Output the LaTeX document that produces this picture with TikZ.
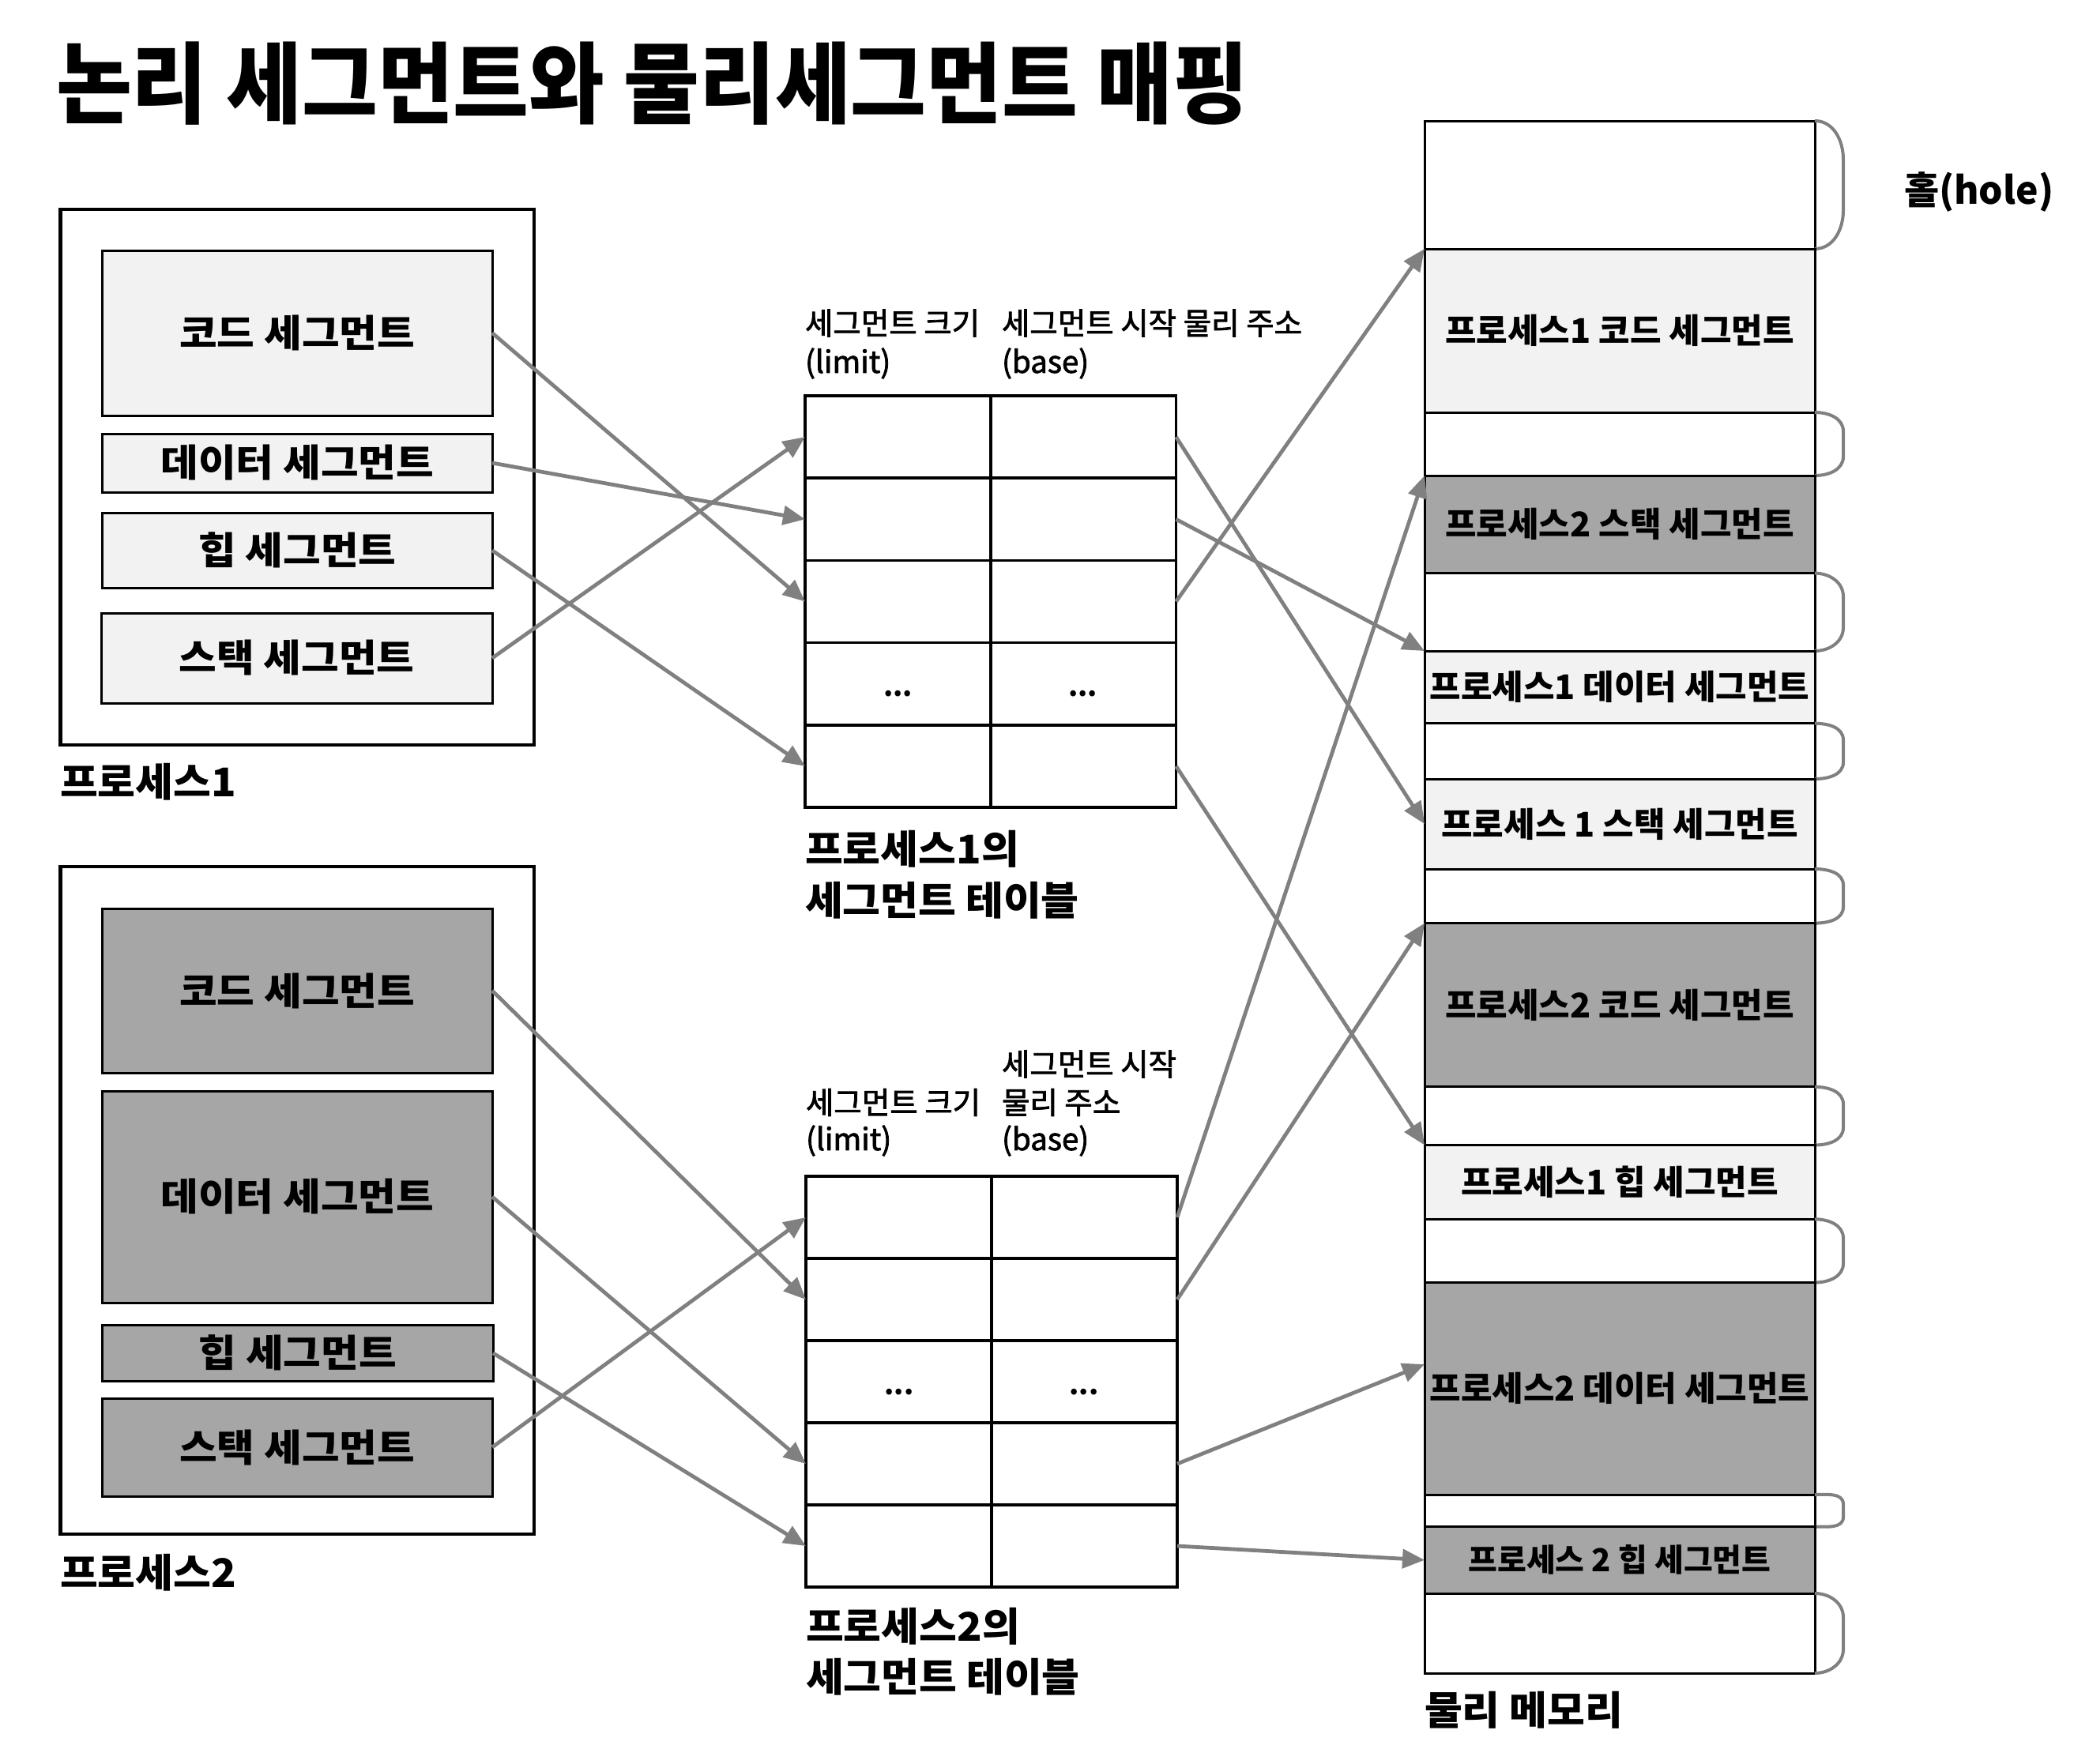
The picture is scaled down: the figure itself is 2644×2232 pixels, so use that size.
\documentclass[tikz,border=0pt]{standalone}
\usepackage{fontspec}
\usepackage{graphicx}
\setmainfont{Noto Sans CJK KR}
\newfontfamily\krmed{Noto Sans CJK KR}[FakeBold=2]
\usetikzlibrary{arrows.meta}
\definecolor{lg}{HTML}{F2F2F2}
\definecolor{dg}{HTML}{A6A6A6}
\definecolor{gr}{HTML}{808080}
\newcommand\myfs[1]{\fontsize{#1}{#1}\selectfont}
\newcommand\wb[1]{\scalebox{1.08}[1]{#1}}
\newcommand\wl[1]{\scalebox{1.04}[1]{#1}}
\newcommand\mkbox[7]{\node[#6, minimum width={(#4)-(#2)}, minimum height={(#5)-(#3)}] (#1) at ({((#2)+(#4))/2},{((#3)+(#5))/2}) {#7};}
\newcommand\mkhole[3]{%
  \mkbox{#1}{1803}{#2}{2297}{#3}{holebox}{}%
  \pgfmathsetmacro\rr{0.3*((#3)-(#2))}%
  \draw[brace] (#1.north east) to[out=0,in=90] ++(36,\rr) -- ([xshift=36pt,yshift=\rr pt]#1.south east) to[out=-90,in=0] (#1.south east);}
\begin{document}
\begin{tikzpicture}[x=1pt,y=-1pt,
  every node/.style={inner sep=0pt, outer sep=0pt},
  outerbox/.style={draw, line width=4.5pt},
  seglt/.style={draw, line width=3pt, fill=lg, font=\myfs{48}\bfseries},
  segdk/.style={draw, line width=3pt, fill=dg, font=\myfs{48}\bfseries},
  memlt/.style={draw, line width=3pt, fill=lg, font=\myfs{43}\bfseries},
  memdk/.style={draw, line width=3pt, fill=dg, font=\myfs{43}\bfseries},
  holebox/.style={draw, line width=3pt, fill=white},
  rowbox/.style={draw, line width=3.5pt, fill=white},
  hdr/.style={anchor=west, font=\krmed\myfs{38.5}},
  lbl/.style={anchor=west, font=\myfs{50}\bfseries},
  dots/.style={anchor=base, font=\myfs{35}\bfseries},
  arr/.style={draw=gr, line width=4.8pt, -{Triangle[length=28pt,width=24pt]}},
  brace/.style={draw=gr, line width=4pt}]
\useasboundingbox (0,0) rectangle (2644,2232);

% title
\node[anchor=west, font=\myfs{112}\bfseries] (title) at (71,106) {\scalebox{0.93}[1]{논리 세그먼트와 물리세그먼트 매핑}};

% process 1
\mkbox{p1}{76.5}{265}{676}{943}{outerbox}{}
\mkbox{c1}{129.5}{317}{623}{526}{seglt}{\wb{코드 세그먼트}}
\mkbox{d1}{129.5}{549}{623}{623}{seglt}{\wb{데이터 세그먼트}}
\mkbox{h1}{129.5}{649.5}{623}{744}{seglt}{\wb{힙 세그먼트}}
\mkbox{s1}{128}{776}{623}{890}{seglt}{\wb{스택 세그먼트}}
\node[lbl] (p1l) at (76,990) {\wl{프로세스1}};

% process 2
\mkbox{p2}{76.5}{1097}{676}{1942}{outerbox}{}
\mkbox{c2}{129.5}{1150}{623}{1358}{segdk}{\wb{코드 세그먼트}}
\mkbox{d2}{129.5}{1381}{623}{1649}{segdk}{\wb{데이터 세그먼트}}
\mkbox{h2}{129.5}{1677.6}{624}{1748}{segdk}{\wb{힙 세그먼트}}
\mkbox{s2}{129.5}{1770}{623}{1894}{segdk}{\wb{스택 세그먼트}}
\node[lbl] (p2l) at (76,1991) {\wl{프로세스2}};

% table 1
\node[hdr] (t1h1) at (1019,409) {세그먼트 크기};
\node[hdr] (t1h2) at (1019,460) {(limit)};
\node[hdr] (t1h3) at (1268,409) {세그먼트 시작 물리 주소};
\node[hdr] (t1h4) at (1268,460) {(base)};
\mkbox{t1r1}{1019}{501}{1488.5}{605.2}{rowbox}{}
\mkbox{t1r2}{1019}{605.2}{1488.5}{709.4}{rowbox}{}
\mkbox{t1r3}{1019}{709.4}{1488.5}{813.6}{rowbox}{}
\mkbox{t1r4}{1019}{813.6}{1488.5}{917.8}{rowbox}{}
\mkbox{t1r5}{1019}{917.8}{1488.5}{1022}{rowbox}{}
\draw[line width=3.5pt] (t1r1.north) -- (t1r5.south);
\node[dots] (t1d1) at ([xshift=-117pt,yshift=-16pt]t1r4.center) {...};
\node[dots] (t1d2) at ([xshift=117pt,yshift=-16pt]t1r4.center) {...};
\node[lbl] (t1l1) at (1019,1074.5) {\wl{프로세스1의}};
\node[lbl] (t1l2) at (1019,1140) {\wl{세그먼트 테이블}};

% table 2
\node[hdr] (t2h0) at (1268,1347) {세그먼트 시작};
\node[hdr] (t2h1) at (1020,1395.5) {세그먼트 크기};
\node[hdr] (t2h2) at (1020,1444) {(limit)};
\node[hdr] (t2h3) at (1268,1395.5) {물리 주소};
\node[hdr] (t2h4) at (1268,1444) {(base)};
\mkbox{t2r1}{1020}{1489}{1490}{1593}{rowbox}{}
\mkbox{t2r2}{1020}{1593}{1490}{1697}{rowbox}{}
\mkbox{t2r3}{1020}{1697}{1490}{1801}{rowbox}{}
\mkbox{t2r4}{1020}{1801}{1490}{1905}{rowbox}{}
\mkbox{t2r5}{1020}{1905}{1490}{2009}{rowbox}{}
\draw[line width=3.5pt] (t2r1.north) -- (t2r5.south);
\node[dots] (t2d1) at ([xshift=-117pt,yshift=-16pt]t2r3.center) {...};
\node[dots] (t2d2) at ([xshift=117pt,yshift=-16pt]t2r3.center) {...};
\node[lbl] (t2l1) at (1020,2059) {\wl{프로세스2의}};
\node[lbl] (t2l2) at (1020,2123) {\wl{세그먼트 테이블}};

% physical memory
\mkhole{ho1}{153}{315}
\mkbox{mc1}{1803}{315}{2297}{522}{memlt}{프로세스1 코드 세그먼트}
\mkhole{ho2}{522}{602}
\mkbox{ms2}{1803}{602}{2297}{725.6}{memdk}{프로세스2 스택 세그먼트}
\mkhole{ho3}{725.6}{824}
\mkbox{md1}{1803}{824}{2297}{915.7}{memlt}{프로세스1 데이터 세그먼트}
\mkhole{ho4}{915.7}{986}
\mkbox{ms1}{1803}{986}{2297}{1100}{memlt}{프로세스 1 스택 세그먼트}
\mkhole{ho5}{1100}{1168.6}
\mkbox{mc2}{1803}{1168.6}{2297}{1375.8}{memdk}{프로세스2 코드 세그먼트}
\mkhole{ho6}{1375.8}{1449.5}
\mkbox{mh1}{1803}{1449.5}{2297}{1543.3}{memlt}{프로세스1 힙 세그먼트}
\mkhole{ho7}{1543.3}{1623.5}
\mkbox{md2}{1803}{1623.5}{2297}{1892}{memdk}{프로세스2 데이터 세그먼트}
\mkhole{ho8}{1892}{1932.5}
\mkbox{mh2}{1803}{1932.5}{2297}{2017}{memdk,font=\myfs{40}\bfseries}{프로세스 2 힙 세그먼트}
\mkhole{ho9}{2017}{2118}
\node[lbl] (meml) at (1803,2165) {\wl{물리 메모리}};
\node[anchor=west, font=\myfs{48}\bfseries] (holel) at (2410,243.5) {홀(hole)};
\coordinate (d2in) at (1803,1727);

% arrows
\draw[arr] (c1.east) -- (t1r3.west);
\draw[arr] (d1.east) -- (t1r2.west);
\draw[arr] (h1.east) -- (t1r5.west);
\draw[arr] (s1.east) -- (t1r1.west);
\draw[arr] (t1r1.east) -- (ms1.west);
\draw[arr] (t1r2.east) -- (md1.north west);
\draw[arr] (t1r3.east) -- (mc1.north west);
\draw[arr] (t1r5.east) -- (mh1.north west);
\draw[arr] (c2.east) -- (t2r2.west);
\draw[arr] (d2.east) -- (t2r4.west);
\draw[arr] (h2.east) -- (t2r5.west);
\draw[arr] (s2.east) -- (t2r1.west);
\draw[arr] (t2r1.east) -- (ms2.north west);
\draw[arr] (t2r2.east) -- (mc2.north west);
\draw[arr] (t2r4.east) -- (d2in);
\draw[arr] (t2r5.east) -- (mh2.west);
\end{tikzpicture}
\end{document}
